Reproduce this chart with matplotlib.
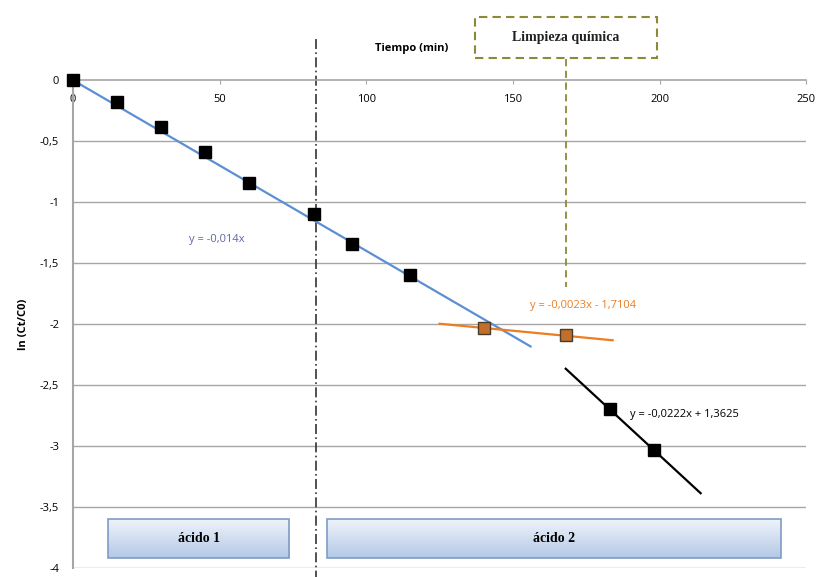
import numpy as np
import matplotlib.pyplot as plt
from matplotlib.patches import Rectangle
from matplotlib.colors import LinearSegmentedColormap

plt.rcParams['font.family'] = ['Open Sans', 'DejaVu Sans']

# --- datos ---
t_acido1 = [0, 15, 30, 45, 60, 82, 95, 115]
ln_acido1 = [0, -0.18, -0.38, -0.585, -0.84, -1.10, -1.34, -1.60]
t_limpieza = [140, 168]
ln_limpieza = [-2.03, -2.09]
t_acido2 = [183, 198]
ln_acido2 = [-2.70, -3.03]

# tendencias: pendiente, ordenada, rango
tend_pend = [-0.014, -0.0023, -0.0222]
tend_ord = [0.0, -1.7104, 1.3625]
tend_rango = [(0, 156), (125, 184), (168, 214)]
tend_color = ['#5b8fd4', '#ec7d22', 'black']
tend_texto = ['y = -0,014x', 'y = -0,0023x - 1,7104', 'y = -0,0222x + 1,3625']

x_cambio_acido = 83
x_limpieza = 168

xticks = [0, 50, 100, 150, 200, 250]
yticks = [0, -0.5, -1, -1.5, -2, -2.5, -3, -3.5, -4]

fig = plt.figure(figsize=(8.16, 5.77), dpi=100)
ax = fig.add_axes([0.0895, 0.016, 0.8985, 0.845])

# ejes estilo excel
ax.spines['right'].set_color('none')
ax.spines['top'].set_color('none')
ax.spines['bottom'].set_position(('data', 0))
ax.spines['bottom'].set_color('#a6a6a6')
ax.spines['left'].set_color('#a6a6a6')
ax.spines['left'].set_linewidth(1.5)
ax.spines['bottom'].set_linewidth(1.2)
for y in yticks[1:]:
    ax.axhline(y, color='#a6a6a6', lw=1.0, zorder=0)

# lineas de tendencia
for m, b, (a, z), c in zip(tend_pend, tend_ord, tend_rango, tend_color):
    xx = np.array([a, z])
    ax.plot(xx, m * xx + b, color=c, lw=1.6, zorder=3)

ax.plot(t_acido1, ln_acido1, 's', color='black', ms=8, zorder=4, clip_on=False)
ax.plot(t_limpieza, ln_limpieza, 's', mfc='#c0702a', mec='#4a3a2a', ms=8, zorder=4)
ax.plot(t_acido2, ln_acido2, 's', color='black', ms=8, zorder=4)

ax.text(49, -1.31, tend_texto[0], color='#5a6aa8', fontsize=8, ha='center', va='center')
ax.text(174, -1.85, tend_texto[1], color='#ec7d22', fontsize=8, ha='center', va='center')
ax.text(190, -2.74, tend_texto[2], color='black', fontsize=8, ha='left', va='center')

# linea de cambio de acido
ax.plot([x_cambio_acido, x_cambio_acido], [0.34, -4.1], color='#333333', lw=1.2,
        ls=(0, (6, 2, 1, 2)), clip_on=False, zorder=2)
# limpieza quimica
ax.plot([x_limpieza, x_limpieza], [0.17, -1.7], color='#8a8a3a', lw=1.3,
        ls=(0, (4, 2.5)), clip_on=False, zorder=2)
ax.add_patch(Rectangle((0.548, 1.045), 0.249, 0.085, transform=ax.transAxes, fill=False,
                       ec='#8a8a3a', lw=1.5, ls=(0, (4, 2.5)), clip_on=False))
ax.text(0.6725, 1.087, 'Limpieza química', transform=ax.transAxes, ha='center', va='center',
        fontsize=10, fontweight='bold', family='Liberation Serif', color='#222222')

ax.text(0.462, 1.065, 'Tiempo (min)', transform=ax.transAxes, ha='center', va='center',
        fontsize=8, fontweight='bold')

# cajas de acido con degradado
grad = np.linspace(0, 1, 50).reshape(-1, 1)
cmap = LinearSegmentedColormap.from_list('caja', ['#eef3fa', '#b4c9e6'])
for (x0, x1), txt in zip([(0.048, 0.295), (0.347, 0.965)], ['ácido 1', 'ácido 2']):
    y0, y1 = 0.021, 0.1
    ax.imshow(grad, extent=[x0, x1, y0, y1], transform=ax.transAxes, cmap=cmap,
              aspect='auto', origin='upper', zorder=5)
    ax.add_patch(Rectangle((x0, y0), x1 - x0, y1 - y0, transform=ax.transAxes,
                           fill=False, ec='#7f9cc4', lw=1.2, zorder=6))
    ax.text((x0 + x1) / 2, (y0 + y1) / 2, txt, transform=ax.transAxes, ha='center',
            va='center', fontsize=10, fontweight='bold', family='Liberation Serif', zorder=7)

ax.set_xlim(0, 250)
ax.set_ylim(-4, 0)
ax.set_xticks(xticks)
ax.set_yticks(yticks)
ax.set_yticklabels([('%g' % v).replace('.', ',') for v in yticks])
ax.tick_params(axis='x', length=3, color='#a6a6a6', labelsize=8, pad=7)
ax.tick_params(axis='y', length=0, labelsize=8, pad=10)
ax.set_ylabel('ln (Ct/C0)', fontsize=8, fontweight='bold', labelpad=8)

fig.savefig('out.png', dpi=100)
